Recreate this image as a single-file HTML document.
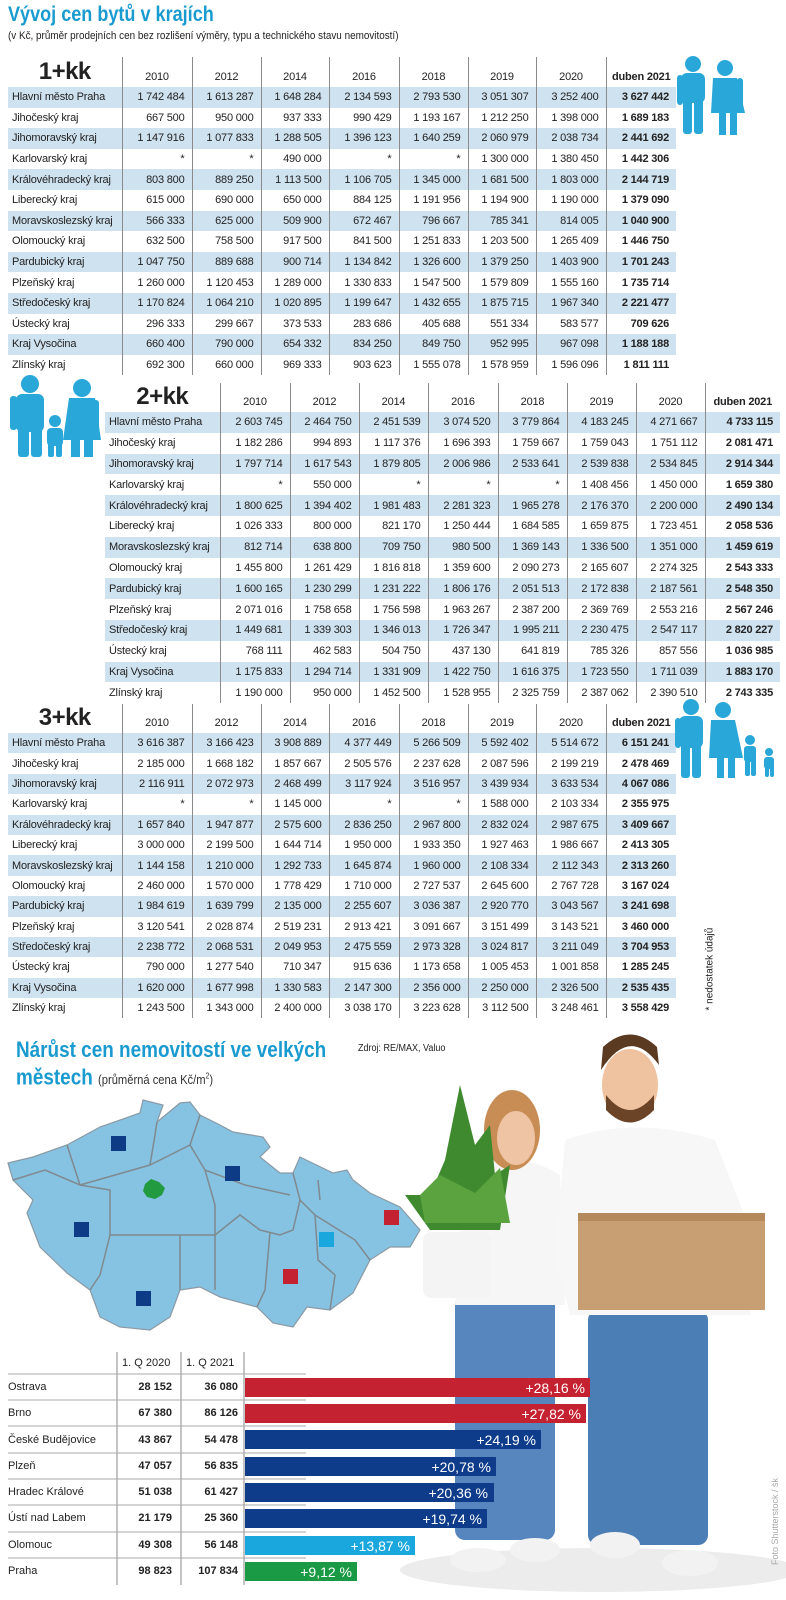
<!DOCTYPE html>
<html><head><meta charset="utf-8">
<style>
*{margin:0;padding:0;box-sizing:border-box}
body{width:786px;height:1600px;background:#fff;position:relative;overflow:hidden;font-family:"Liberation Sans",sans-serif;color:#222}
.abs{position:absolute}
table{border-collapse:collapse;table-layout:fixed;position:absolute;font-size:11px;letter-spacing:-0.2px}
td{white-space:nowrap;overflow:hidden}
td.l{padding-left:4px;text-align:left}
td.n{text-align:right;padding-right:7px;border-left:1px solid #8a8a8a}
td.b{font-weight:bold}
tr.s td{background:#cfe2ef}
tr.h td{font-size:11px;text-align:center;padding:0;vertical-align:bottom;padding-bottom:4px}
tr.h td.big{font-size:24px;font-weight:bold;text-align:center;padding-bottom:1px;letter-spacing:-0.5px}
.title{color:#1a9bd0;font-weight:bold;font-size:21px;transform:scaleX(.86);transform-origin:left;white-space:nowrap}
.r{height:26.3px;line-height:26px;position:relative}
.r b{position:absolute}
.c1{right:76px}.c2{right:10px}
</style></head><body>

<div class="abs title" style="left:8px;top:3px">Vývoj cen bytů v krajích</div>
<div class="abs" style="left:8px;top:30px;font-size:11px;transform:scaleX(.9);transform-origin:left;white-space:nowrap">(v Kč, průměr prodejních cen bez rozlišení výměry, typu a technického stavu nemovitostí)</div>

<!-- Table 1 -->
<table style="left:8px;top:57px;width:668px">
<colgroup><col style="width:114px"><col style="width:70px"><col style="width:69px"><col style="width:68px"><col style="width:70px"><col style="width:69px"><col style="width:68px"><col style="width:70px"><col style="width:70px"></colgroup>
<tr class="h" style="height:30px"><td class="big">1+kk</td><td class="n" style="text-align:center">2010</td><td class="n" style="text-align:center">2012</td><td class="n" style="text-align:center">2014</td><td class="n" style="text-align:center">2016</td><td class="n" style="text-align:center">2018</td><td class="n" style="text-align:center">2019</td><td class="n" style="text-align:center">2020</td><td class="n b" style="text-align:center">duben 2021</td></tr>
<tr class="s" style="height:20.6px"><td class="l">Hlavní město Praha</td><td class="n">1 742 484</td><td class="n">1 613 287</td><td class="n">1 648 284</td><td class="n">2 134 593</td><td class="n">2 793 530</td><td class="n">3 051 307</td><td class="n">3 252 400</td><td class="n b">3 627 442</td></tr>
<tr style="height:20.6px"><td class="l">Jihočeský kraj</td><td class="n">667 500</td><td class="n">950 000</td><td class="n">937 333</td><td class="n">990 429</td><td class="n">1 193 167</td><td class="n">1 212 250</td><td class="n">1 398 000</td><td class="n b">1 689 183</td></tr>
<tr class="s" style="height:20.6px"><td class="l">Jihomoravský kraj</td><td class="n">1 147 916</td><td class="n">1 077 833</td><td class="n">1 288 505</td><td class="n">1 396 123</td><td class="n">1 640 259</td><td class="n">2 060 979</td><td class="n">2 038 734</td><td class="n b">2 441 692</td></tr>
<tr style="height:20.6px"><td class="l">Karlovarský kraj</td><td class="n">*</td><td class="n">*</td><td class="n">490 000</td><td class="n">*</td><td class="n">*</td><td class="n">1 300 000</td><td class="n">1 380 450</td><td class="n b">1 442 306</td></tr>
<tr class="s" style="height:20.6px"><td class="l">Královéhradecký kraj</td><td class="n">803 800</td><td class="n">889 250</td><td class="n">1 113 500</td><td class="n">1 106 705</td><td class="n">1 345 000</td><td class="n">1 681 500</td><td class="n">1 803 000</td><td class="n b">2 144 719</td></tr>
<tr style="height:20.6px"><td class="l">Liberecký kraj</td><td class="n">615 000</td><td class="n">690 000</td><td class="n">650 000</td><td class="n">884 125</td><td class="n">1 191 956</td><td class="n">1 194 900</td><td class="n">1 190 000</td><td class="n b">1 379 090</td></tr>
<tr class="s" style="height:20.6px"><td class="l">Moravskoslezský kraj</td><td class="n">566 333</td><td class="n">625 000</td><td class="n">509 900</td><td class="n">672 467</td><td class="n">796 667</td><td class="n">785 341</td><td class="n">814 005</td><td class="n b">1 040 900</td></tr>
<tr style="height:20.6px"><td class="l">Olomoucký kraj</td><td class="n">632 500</td><td class="n">758 500</td><td class="n">917 500</td><td class="n">841 500</td><td class="n">1 251 833</td><td class="n">1 203 500</td><td class="n">1 265 409</td><td class="n b">1 446 750</td></tr>
<tr class="s" style="height:20.6px"><td class="l">Pardubický kraj</td><td class="n">1 047 750</td><td class="n">889 688</td><td class="n">900 714</td><td class="n">1 134 842</td><td class="n">1 326 600</td><td class="n">1 379 250</td><td class="n">1 403 900</td><td class="n b">1 701 243</td></tr>
<tr style="height:20.6px"><td class="l">Plzeňský kraj</td><td class="n">1 260 000</td><td class="n">1 120 453</td><td class="n">1 289 000</td><td class="n">1 330 833</td><td class="n">1 547 500</td><td class="n">1 579 809</td><td class="n">1 555 160</td><td class="n b">1 735 714</td></tr>
<tr class="s" style="height:20.6px"><td class="l">Středočeský kraj</td><td class="n">1 170 824</td><td class="n">1 064 210</td><td class="n">1 020 895</td><td class="n">1 199 647</td><td class="n">1 432 655</td><td class="n">1 875 715</td><td class="n">1 967 340</td><td class="n b">2 221 477</td></tr>
<tr style="height:20.6px"><td class="l">Ústecký kraj</td><td class="n">296 333</td><td class="n">299 667</td><td class="n">373 533</td><td class="n">283 686</td><td class="n">405 688</td><td class="n">551 334</td><td class="n">583 577</td><td class="n b">709 626</td></tr>
<tr class="s" style="height:20.6px"><td class="l">Kraj Vysočina</td><td class="n">660 400</td><td class="n">790 000</td><td class="n">654 332</td><td class="n">834 250</td><td class="n">849 750</td><td class="n">952 995</td><td class="n">967 098</td><td class="n b">1 188 188</td></tr>
<tr style="height:20.6px"><td class="l">Zlínský kraj</td><td class="n">692 300</td><td class="n">660 000</td><td class="n">969 333</td><td class="n">903 623</td><td class="n">1 555 078</td><td class="n">1 578 959</td><td class="n">1 596 096</td><td class="n b">1 811 111</td></tr>
</table>

<!-- Table 2 -->
<table style="left:105px;top:383px;width:675px">
<colgroup><col style="width:115px"><col style="width:70px"><col style="width:69px"><col style="width:69px"><col style="width:70px"><col style="width:69px"><col style="width:69px"><col style="width:69px"><col style="width:75px"></colgroup>
<tr class="h" style="height:27px"><td class="big">2+kk</td><td class="n" style="text-align:center">2010</td><td class="n" style="text-align:center">2012</td><td class="n" style="text-align:center">2014</td><td class="n" style="text-align:center">2016</td><td class="n" style="text-align:center">2018</td><td class="n" style="text-align:center">2019</td><td class="n" style="text-align:center">2020</td><td class="n b" style="text-align:center">duben 2021</td></tr>
<tr class="s" style="height:20.8px"><td class="l">Hlavní město Praha</td><td class="n">2 603 745</td><td class="n">2 464 750</td><td class="n">2 451 539</td><td class="n">3 074 520</td><td class="n">3 779 864</td><td class="n">4 183 245</td><td class="n">4 271 667</td><td class="n b">4 733 115</td></tr>
<tr style="height:20.8px"><td class="l">Jihočeský kraj</td><td class="n">1 182 286</td><td class="n">994 893</td><td class="n">1 117 376</td><td class="n">1 696 393</td><td class="n">1 759 667</td><td class="n">1 759 043</td><td class="n">1 751 112</td><td class="n b">2 081 471</td></tr>
<tr class="s" style="height:20.8px"><td class="l">Jihomoravský kraj</td><td class="n">1 797 714</td><td class="n">1 617 543</td><td class="n">1 879 805</td><td class="n">2 006 986</td><td class="n">2 533 641</td><td class="n">2 539 838</td><td class="n">2 534 845</td><td class="n b">2 914 344</td></tr>
<tr style="height:20.8px"><td class="l">Karlovarský kraj</td><td class="n">*</td><td class="n">550 000</td><td class="n">*</td><td class="n">*</td><td class="n">*</td><td class="n">1 408 456</td><td class="n">1 450 000</td><td class="n b">1 659 380</td></tr>
<tr class="s" style="height:20.8px"><td class="l">Královéhradecký kraj</td><td class="n">1 800 625</td><td class="n">1 394 402</td><td class="n">1 981 483</td><td class="n">2 281 323</td><td class="n">1 965 278</td><td class="n">2 176 370</td><td class="n">2 200 000</td><td class="n b">2 490 134</td></tr>
<tr style="height:20.8px"><td class="l">Liberecký kraj</td><td class="n">1 026 333</td><td class="n">800 000</td><td class="n">821 170</td><td class="n">1 250 444</td><td class="n">1 684 585</td><td class="n">1 659 875</td><td class="n">1 723 451</td><td class="n b">2 058 536</td></tr>
<tr class="s" style="height:20.8px"><td class="l">Moravskoslezský kraj</td><td class="n">812 714</td><td class="n">638 800</td><td class="n">709 750</td><td class="n">980 500</td><td class="n">1 369 143</td><td class="n">1 336 500</td><td class="n">1 351 000</td><td class="n b">1 459 619</td></tr>
<tr style="height:20.8px"><td class="l">Olomoucký kraj</td><td class="n">1 455 800</td><td class="n">1 261 429</td><td class="n">1 816 818</td><td class="n">1 359 600</td><td class="n">2 090 273</td><td class="n">2 165 607</td><td class="n">2 274 325</td><td class="n b">2 543 333</td></tr>
<tr class="s" style="height:20.8px"><td class="l">Pardubický kraj</td><td class="n">1 600 165</td><td class="n">1 230 299</td><td class="n">1 231 222</td><td class="n">1 806 176</td><td class="n">2 051 513</td><td class="n">2 172 838</td><td class="n">2 187 561</td><td class="n b">2 548 350</td></tr>
<tr style="height:20.8px"><td class="l">Plzeňský kraj</td><td class="n">2 071 016</td><td class="n">1 758 658</td><td class="n">1 756 598</td><td class="n">1 963 267</td><td class="n">2 387 200</td><td class="n">2 369 769</td><td class="n">2 553 216</td><td class="n b">2 567 246</td></tr>
<tr class="s" style="height:20.8px"><td class="l">Středočeský kraj</td><td class="n">1 449 681</td><td class="n">1 339 303</td><td class="n">1 346 013</td><td class="n">1 726 347</td><td class="n">1 995 211</td><td class="n">2 230 475</td><td class="n">2 547 117</td><td class="n b">2 820 227</td></tr>
<tr style="height:20.8px"><td class="l">Ústecký kraj</td><td class="n">768 111</td><td class="n">462 583</td><td class="n">504 750</td><td class="n">437 130</td><td class="n">641 819</td><td class="n">785 326</td><td class="n">857 556</td><td class="n b">1 036 985</td></tr>
<tr class="s" style="height:20.8px"><td class="l">Kraj Vysočina</td><td class="n">1 175 833</td><td class="n">1 294 714</td><td class="n">1 331 909</td><td class="n">1 422 750</td><td class="n">1 616 375</td><td class="n">1 723 550</td><td class="n">1 711 039</td><td class="n b">1 883 170</td></tr>
<tr style="height:20.8px"><td class="l">Zlínský kraj</td><td class="n">1 190 000</td><td class="n">950 000</td><td class="n">1 452 500</td><td class="n">1 528 955</td><td class="n">2 325 759</td><td class="n">2 387 062</td><td class="n">2 390 510</td><td class="n b">2 743 335</td></tr>
</table>

<!-- Table 3 -->
<table style="left:8px;top:704px;width:668px">
<colgroup><col style="width:114px"><col style="width:70px"><col style="width:69px"><col style="width:68px"><col style="width:70px"><col style="width:69px"><col style="width:68px"><col style="width:70px"><col style="width:70px"></colgroup>
<tr class="h" style="height:28px"><td class="big">3+kk</td><td class="n" style="text-align:center">2010</td><td class="n" style="text-align:center">2012</td><td class="n" style="text-align:center">2014</td><td class="n" style="text-align:center">2016</td><td class="n" style="text-align:center">2018</td><td class="n" style="text-align:center">2019</td><td class="n" style="text-align:center">2020</td><td class="n b" style="text-align:center">duben 2021</td></tr>
<tr class="s" style="height:20.4px"><td class="l">Hlavní město Praha</td><td class="n">3 616 387</td><td class="n">3 166 423</td><td class="n">3 908 889</td><td class="n">4 377 449</td><td class="n">5 266 509</td><td class="n">5 592 402</td><td class="n">5 514 672</td><td class="n b">6 151 241</td></tr>
<tr style="height:20.4px"><td class="l">Jihočeský kraj</td><td class="n">2 185 000</td><td class="n">1 668 182</td><td class="n">1 857 667</td><td class="n">2 505 576</td><td class="n">2 237 628</td><td class="n">2 087 596</td><td class="n">2 199 219</td><td class="n b">2 478 469</td></tr>
<tr class="s" style="height:20.4px"><td class="l">Jihomoravský kraj</td><td class="n">2 116 911</td><td class="n">2 072 973</td><td class="n">2 468 499</td><td class="n">3 117 924</td><td class="n">3 516 957</td><td class="n">3 439 934</td><td class="n">3 633 534</td><td class="n b">4 067 086</td></tr>
<tr style="height:20.4px"><td class="l">Karlovarský kraj</td><td class="n">*</td><td class="n">*</td><td class="n">1 145 000</td><td class="n">*</td><td class="n">*</td><td class="n">1 588 000</td><td class="n">2 103 334</td><td class="n b">2 355 975</td></tr>
<tr class="s" style="height:20.4px"><td class="l">Královéhradecký kraj</td><td class="n">1 657 840</td><td class="n">1 947 877</td><td class="n">2 575 600</td><td class="n">2 836 250</td><td class="n">2 967 800</td><td class="n">2 832 024</td><td class="n">2 987 675</td><td class="n b">3 409 667</td></tr>
<tr style="height:20.4px"><td class="l">Liberecký kraj</td><td class="n">3 000 000</td><td class="n">2 199 500</td><td class="n">1 644 714</td><td class="n">1 950 000</td><td class="n">1 933 350</td><td class="n">1 927 463</td><td class="n">1 986 667</td><td class="n b">2 413 305</td></tr>
<tr class="s" style="height:20.4px"><td class="l">Moravskoslezský kraj</td><td class="n">1 144 158</td><td class="n">1 210 000</td><td class="n">1 292 733</td><td class="n">1 645 874</td><td class="n">1 960 000</td><td class="n">2 108 334</td><td class="n">2 112 343</td><td class="n b">2 313 260</td></tr>
<tr style="height:20.4px"><td class="l">Olomoucký kraj</td><td class="n">2 460 000</td><td class="n">1 570 000</td><td class="n">1 778 429</td><td class="n">1 710 000</td><td class="n">2 727 537</td><td class="n">2 645 600</td><td class="n">2 767 728</td><td class="n b">3 167 024</td></tr>
<tr class="s" style="height:20.4px"><td class="l">Pardubický kraj</td><td class="n">1 984 619</td><td class="n">1 639 799</td><td class="n">2 135 000</td><td class="n">2 255 607</td><td class="n">3 036 387</td><td class="n">2 920 770</td><td class="n">3 043 567</td><td class="n b">3 241 698</td></tr>
<tr style="height:20.4px"><td class="l">Plzeňský kraj</td><td class="n">3 120 541</td><td class="n">2 028 874</td><td class="n">2 519 231</td><td class="n">2 913 421</td><td class="n">3 091 667</td><td class="n">3 151 499</td><td class="n">3 143 521</td><td class="n b">3 460 000</td></tr>
<tr class="s" style="height:20.4px"><td class="l">Středočeský kraj</td><td class="n">2 238 772</td><td class="n">2 068 531</td><td class="n">2 049 953</td><td class="n">2 475 559</td><td class="n">2 973 328</td><td class="n">3 024 817</td><td class="n">3 211 049</td><td class="n b">3 704 953</td></tr>
<tr style="height:20.4px"><td class="l">Ústecký kraj</td><td class="n">790 000</td><td class="n">1 277 540</td><td class="n">710 347</td><td class="n">915 636</td><td class="n">1 173 658</td><td class="n">1 005 453</td><td class="n">1 001 858</td><td class="n b">1 285 245</td></tr>
<tr class="s" style="height:20.4px"><td class="l">Kraj Vysočina</td><td class="n">1 620 000</td><td class="n">1 677 998</td><td class="n">1 330 583</td><td class="n">2 147 300</td><td class="n">2 356 000</td><td class="n">2 250 000</td><td class="n">2 326 500</td><td class="n b">2 535 435</td></tr>
<tr style="height:20.4px"><td class="l">Zlínský kraj</td><td class="n">1 243 500</td><td class="n">1 343 000</td><td class="n">2 400 000</td><td class="n">3 038 170</td><td class="n">3 223 628</td><td class="n">3 112 500</td><td class="n">3 248 461</td><td class="n b">3 558 429</td></tr>
</table>

<div class="abs" style="left:640px;top:935px;width:140px;font-size:10px;transform:rotate(-90deg);white-space:nowrap">* nedostatek údajů</div>

<!-- people icons -->
<svg class="abs" style="left:0;top:0" width="786" height="800">
<g fill="#2aa7d9">
 <g transform="translate(8,0)">
 <circle cx="685" cy="64" r="8"/><rect x="673" y="73" width="24" height="30" rx="6"/><rect x="675" y="98" width="9" height="36" rx="3"/><rect x="686" y="98" width="9" height="36" rx="3"/><rect x="669" y="75" width="6" height="30" rx="3"/>
 <circle cx="717" cy="68" r="8"/><path d="M705 78 h24 l8 35 h-8 v22 h-7 v-22 h-4 v22 h-7 v-22 h-8 z"/><rect x="729" y="78" width="6" height="28" rx="3"/>
 </g>
 <circle cx="30" cy="384" r="9"/><rect x="16" y="394" width="28" height="38" rx="6"/><rect x="18" y="425" width="11" height="32" rx="3"/><rect x="31" y="425" width="11" height="32" rx="3"/><rect x="10" y="396" width="7" height="34" rx="3"/>
 <circle cx="55" cy="421" r="6"/><rect x="47" y="428" width="16" height="18" rx="4"/><rect x="48" y="440" width="6" height="17" rx="2"/><rect x="56" y="440" width="6" height="17" rx="2"/>
 <circle cx="82" cy="388" r="9"/><path d="M69 398 h26 l6 42 h-8 v17 h-9 v-17 h-4 v17 h-9 v-17 h-8 z"/><rect x="93" y="400" width="6" height="30" rx="3"/>
 <g transform="translate(8,0)">
 <circle cx="683" cy="707" r="8"/><rect x="671" y="716" width="24" height="32" rx="6"/><rect x="673" y="742" width="9" height="36" rx="3"/><rect x="684" y="742" width="9" height="36" rx="3"/><rect x="667" y="718" width="6" height="30" rx="3"/>
 <circle cx="715" cy="710" r="8"/><path d="M703 720 h24 l8 38 h-8 v20 h-7 v-20 h-4 v20 h-7 v-20 h-8 z"/>
 <circle cx="742" cy="740" r="5"/><rect x="736" y="746" width="12" height="16" rx="3"/><rect x="737" y="758" width="5" height="18" rx="2"/><rect x="743" y="758" width="5" height="18" rx="2"/>
 <circle cx="761" cy="752" r="4"/><rect x="756" y="757" width="10" height="12" rx="3"/><rect x="757" y="765" width="4" height="12" rx="2"/><rect x="762" y="765" width="4" height="12" rx="2"/>
 </g>
</g>
</svg>

<!-- bottom section -->
<div class="abs" style="left:358px;top:1043px;font-size:10px;transform:scaleX(.9);transform-origin:left;white-space:nowrap">Zdroj: RE/MAX, Valuo</div>
<div class="abs title" style="left:16px;top:1036px;font-size:22px;line-height:27px">Nárůst cen nemovitostí ve velkých<br>městech <span style="font-weight:normal;color:#333;font-size:13px">(průměrná cena Kč/m<sup style="font-size:8px">2</sup>)</span></div>

<svg class="abs" style="left:0;top:0" width="786" height="1600">
 <ellipse cx="600" cy="1570" rx="200" ry="22" fill="#ececec"/>
 <!-- woman -->
 <rect x="455" y="1295" width="100" height="245" rx="10" fill="#5686bd"/>
 <path d="M465 1170 q45 -25 95 5 l5 130 h-110 z" fill="#f6f6f6"/>
 <ellipse cx="512" cy="1130" rx="28" ry="40" fill="#c88d55"/>
 <ellipse cx="516" cy="1138" rx="19" ry="27" fill="#efc4a4"/>
 <!-- plant -->
 <path d="M445 1160 l15 -75 l15 60 l15 -20 l5 50 l15 -10 l-10 65 h-70 l-25 -35 l25 0 z" fill="#3f8a2e"/>
 <path d="M420 1195 l20 -20 l35 18 l25 -25 l10 55 h-85 z" fill="#5aa33e"/>
 <rect x="423" y="1232" width="68" height="66" rx="8" fill="#f4f4f4"/>
 <!-- man -->
 <rect x="588" y="1310" width="120" height="235" rx="10" fill="#4c7eb6"/>
 <path d="M565 1140 q70 -25 150 0 l45 115 l-10 60 h-180 l-15 -60 z" fill="#f7f7f7"/>
 <ellipse cx="630" cy="1085" rx="28" ry="36" fill="#efc3a0"/>
 <path d="M601 1070 q29 -45 58 -5 l-2 -18 q-27 -25 -54 0 z" fill="#5b3a22"/>
 <path d="M606 1095 q24 30 48 0 l0 15 q-24 25 -48 0 z" fill="#6b4428"/>
 <rect x="578" y="1213" width="187" height="97" fill="#c79f72"/>
 <rect x="578" y="1213" width="187" height="8" fill="#b48a5d"/>
 <ellipse cx="478" cy="1560" rx="28" ry="12" fill="#f2f2f2"/><ellipse cx="535" cy="1550" rx="25" ry="12" fill="#f2f2f2"/>
 <ellipse cx="615" cy="1545" rx="25" ry="13" fill="#f2f2f2"/><ellipse cx="690" cy="1563" rx="28" ry="13" fill="#f2f2f2"/>
 <!-- map -->
 <path d="M8 1163 L33 1157 L67 1145 L100 1127 L140 1113 L143 1100 L163 1105 L157 1122 L180 1103 L190 1102 L200 1115 L220 1125 L233 1132 L263 1137 L270 1147 L260 1157 L280 1173 L293 1173 L300 1157 L333 1173 L347 1170 L353 1180 L370 1193 L400 1207 L420 1230 L410 1247 L390 1247 L370 1260 L353 1293 L330 1310 L307 1307 L293 1327 L273 1323 L257 1307 L220 1297 L200 1287 L180 1290 L170 1317 L150 1330 L120 1327 L100 1317 L90 1290 L67 1273 L40 1247 L27 1213 L33 1200 L13 1180 Z" fill="#86c2e2" stroke="#8a9aa4" stroke-width="1.2"/>
 <g fill="none" stroke="#7f8a90" stroke-width="1.5">
  <path d="M13 1180 L45 1170 L80 1185 L110 1190 L110 1235 L100 1275 L90 1290"/>
  <path d="M67 1145 L80 1185"/>
  <path d="M80 1185 L150 1165 L190 1145 L200 1115"/>
  <path d="M150 1165 L155 1135 L157 1122"/>
  <path d="M190 1145 L205 1170 L215 1205 L215 1235"/>
  <path d="M110 1235 L180 1235 L215 1235 L240 1215 L260 1230 L280 1235 L293 1230 L300 1200 L293 1173"/>
  <path d="M205 1170 L245 1185 L290 1195"/>
  <path d="M180 1235 L180 1290"/>
  <path d="M215 1235 L215 1290"/>
  <path d="M270 1232 L265 1290 L257 1307"/>
  <path d="M300 1200 L315 1215 L355 1240 L370 1260"/>
  <path d="M315 1215 L318 1260 L335 1275 L330 1310"/>
  <path d="M318 1180 L320 1200"/>
 </g>
 <path d="M145 1184 l6 -5 l8 3 l6 6 l-3 7 l-7 4 l-8 -2 l-4 -6 z" fill="#229a3f"/>
 <rect x="111" y="1136" width="15" height="15" fill="#0d3b85"/>
 <rect x="225" y="1166" width="15" height="15" fill="#0d3b85"/>
 <rect x="74" y="1222" width="15" height="15" fill="#0d3b85"/>
 <rect x="136" y="1291" width="15" height="15" fill="#0d3b85"/>
 <rect x="283" y="1269" width="15" height="15" fill="#c42230"/>
 <rect x="319" y="1232" width="15" height="15" fill="#1aa7de"/>
 <rect x="384" y="1210" width="15" height="15" fill="#c42230"/>
 <g stroke="#888" stroke-width="1">
  <line x1="117" y1="1352" x2="117" y2="1585"/><line x1="181" y1="1352" x2="181" y2="1585"/><line x1="244" y1="1352" x2="244" y2="1585"/>
 </g>
 <g stroke="#aaa" stroke-width="1">
  <line x1="8" y1="1374" x2="306" y2="1374"/><line x1="8" y1="1400" x2="306" y2="1400"/><line x1="8" y1="1426" x2="306" y2="1426"/><line x1="8" y1="1453" x2="306" y2="1453"/><line x1="8" y1="1479" x2="306" y2="1479"/><line x1="8" y1="1505" x2="306" y2="1505"/><line x1="8" y1="1532" x2="306" y2="1532"/><line x1="8" y1="1558" x2="306" y2="1558"/>
 </g>
 <rect x="245" y="1378" width="345" height="19" fill="#c42230"/>
 <rect x="245" y="1404" width="341" height="19" fill="#c42230"/>
 <rect x="245" y="1430" width="296" height="19" fill="#0e3c8a"/>
 <rect x="245" y="1457" width="251" height="19" fill="#0e3c8a"/>
 <rect x="245" y="1483" width="249" height="19" fill="#0e3c8a"/>
 <rect x="245" y="1509" width="242" height="19" fill="#0e3c8a"/>
 <rect x="245" y="1536" width="170" height="19" fill="#1aa7de"/>
 <rect x="245" y="1562" width="112" height="19" fill="#1a9a45"/>
 <g fill="#fff" font-family="Liberation Sans, sans-serif" font-size="14" text-anchor="end">
  <text x="585" y="1393">+28,16 %</text><text x="581" y="1419">+27,82 %</text><text x="536" y="1445">+24,19 %</text>
  <text x="491" y="1472">+20,78 %</text><text x="488" y="1498">+20,36 %</text><text x="482" y="1524">+19,74 %</text>
  <text x="410" y="1551">+13,87 %</text><text x="352" y="1577">+9,12 %</text>
 </g>
</svg>

<div class="abs" style="left:122px;top:1357px;font-size:11px;white-space:nowrap">1. Q 2020</div>
<div class="abs" style="left:186px;top:1357px;font-size:11px;white-space:nowrap">1. Q 2021</div>
<div class="abs" style="left:8px;top:1374px;font-size:11px;width:240px">
 <div class="r">Ostrava<b class="c1">28 152</b><b class="c2">36 080</b></div>
 <div class="r">Brno<b class="c1">67 380</b><b class="c2">86 126</b></div>
 <div class="r">České Budějovice<b class="c1">43 867</b><b class="c2">54 478</b></div>
 <div class="r">Plzeň<b class="c1">47 057</b><b class="c2">56 835</b></div>
 <div class="r">Hradec Králové<b class="c1">51 038</b><b class="c2">61 427</b></div>
 <div class="r">Ústí nad Labem<b class="c1">21 179</b><b class="c2">25 360</b></div>
 <div class="r">Olomouc<b class="c1">49 308</b><b class="c2">56 148</b></div>
 <div class="r">Praha<b class="c1">98 823</b><b class="c2">107 834</b></div>
</div>
<div class="abs" style="left:720px;top:1505px;width:110px;font-size:9px;color:#aaa;transform:rotate(-90deg);white-space:nowrap">Foto Shutterstock / šk</div>
</body></html>
